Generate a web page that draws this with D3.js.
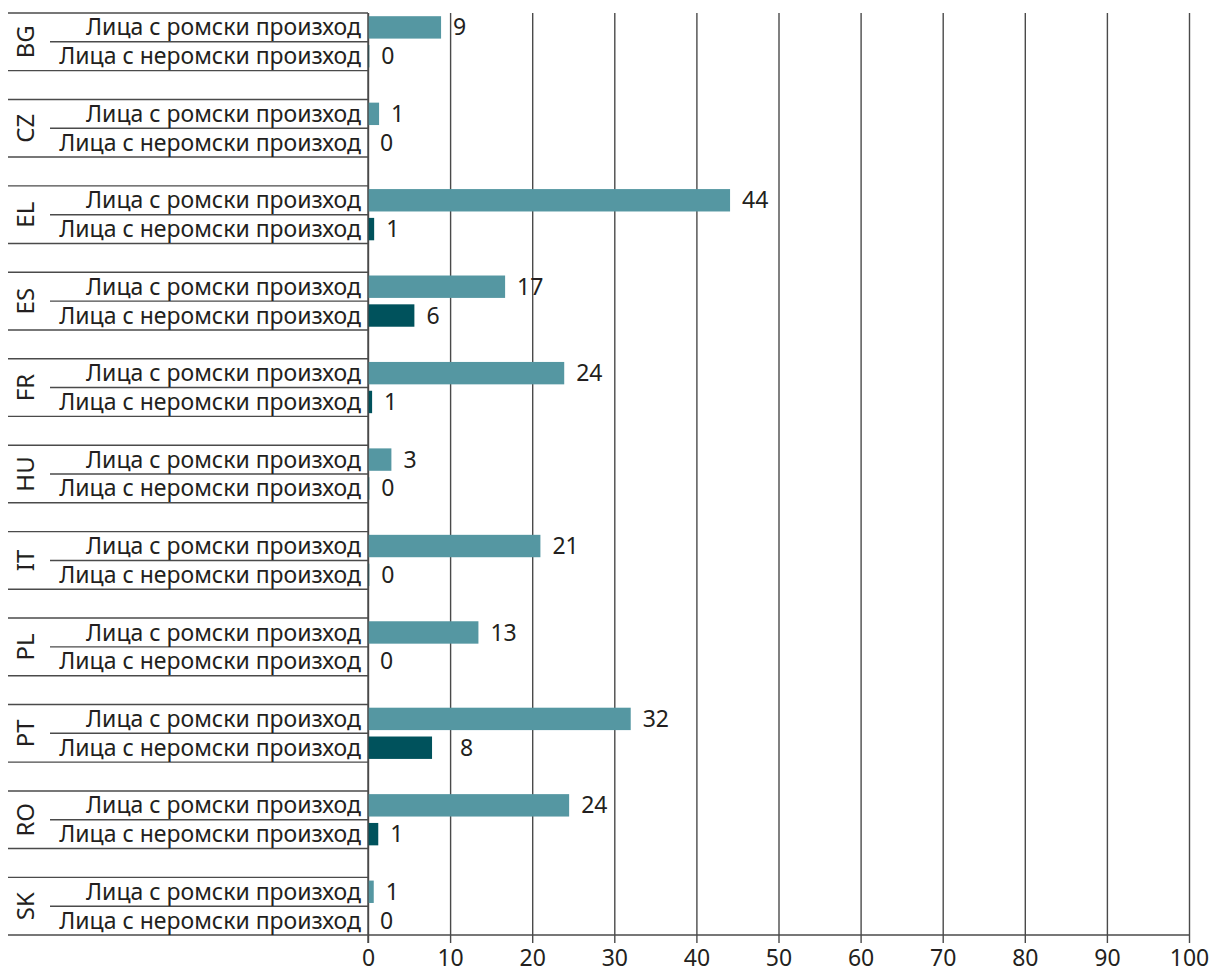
<!DOCTYPE html>
<html>
<head>
<meta charset="utf-8">
<script src="https://cdn.jsdelivr.net/npm/d3@7"></script>
<style>
  html, body { margin: 0; padding: 0; background: #fff; }
  svg { display: block; }
  text { font-family: "Noto Sans", "Open Sans", sans-serif; fill: #231f20; }
</style>
</head>
<body>
<svg id="chart" width="1211" height="974"></svg>
<script>
// ---- data ----
const countries = ["BG", "CZ", "EL", "ES", "FR", "HU", "IT", "PL", "PT", "RO", "SK"];
const seriesNames = ["Лица с ромски произход", "Лица с неромски произход"];
const romaValues    = [8.9, 1.35, 44.1, 16.7, 23.9, 2.85, 21.0, 13.45, 32.0, 24.5, 0.7];
const nonRomaValues = [0.15, 0, 0.75, 5.65, 0.5, 0.15, 0.15, 0, 7.8, 1.25, 0];
const romaLabels    = ["9", "1", "44", "17", "24", "3", "21", "13", "32", "24", "1"];
const nonRomaLabels = ["0", "0", "1", "6", "1", "0", "0", "0", "8", "1", "0"];
const xTicks = [0, 10, 20, 30, 40, 50, 60, 70, 80, 90, 100];
const colors = ["#5597a2", "#00525c"];

(function () {
// ---- layout ----
const svg = d3.select("#chart");
const pLeft = 368, pRight = 1189, pTop = 13, pBottom = 935;
const outerX = 8, innerX = 50;
const fs = "23px";

// rows: roma, non-roma, gap for each country (no final gap)
const rowKeys = [];
countries.forEach((c, i) => {
  rowKeys.push(c + "|0");
  rowKeys.push(c + "|1");
  if (i < countries.length - 1) rowKeys.push(c + "|gap");
});
const y = d3.scaleBand().domain(rowKeys).range([pTop, pBottom]).padding(0);
const rowH = y.bandwidth();
const x = d3.scaleLinear().domain([0, 100]).range([pLeft, pRight]);

const lineColor = "#4a4a4a";

// gridlines + bottom axis
const axis = d3.axisBottom(x).tickValues(xTicks).tickSize(-(pBottom - pTop)).tickSizeOuter(0).tickFormat(d3.format("d"));
const gAxis = svg.append("g").attr("transform", `translate(0,${pBottom})`).call(axis);
gAxis.select(".domain").remove();
gAxis.selectAll(".tick line").attr("stroke", lineColor).attr("stroke-width", 1.4)
  .attr("y2", -(pBottom - pTop)).attr("y1", 8);
gAxis.selectAll(".tick text").attr("y", 15).attr("dy", "0.71em")
  .style("font-size", "23px").attr("fill", "#231f20");

// bottom axis line
svg.append("line").attr("x1", outerX).attr("x2", pRight).attr("y1", pBottom).attr("y2", pBottom)
  .attr("stroke", lineColor).attr("stroke-width", 1.4);

// category lines
const catLines = svg.append("g").attr("stroke", lineColor).attr("stroke-width", 1.4);
countries.forEach((c, i) => {
  const y0 = y(c + "|0");
  const y1 = y(c + "|1");
  catLines.append("line").attr("x1", outerX).attr("x2", pLeft).attr("y1", y0).attr("y2", y0);
  catLines.append("line").attr("x1", innerX).attr("x2", pLeft).attr("y1", y1).attr("y2", y1);
  if (i < countries.length - 1) {
    const yg = y(c + "|gap");
    catLines.append("line").attr("x1", outerX).attr("x2", pLeft).attr("y1", yg).attr("y2", yg);
  }
});

// bars
const barPadTop = 3.2, barH = 22.4;
const bars = [];
countries.forEach((c, i) => {
  bars.push({ key: c + "|0", v: romaValues[i], lab: romaLabels[i], s: 0 });
  bars.push({ key: c + "|1", v: nonRomaValues[i], lab: nonRomaLabels[i], s: 1 });
});
svg.append("g").selectAll("rect").data(bars).join("rect")
  .attr("x", x(0))
  .attr("y", d => y(d.key) + barPadTop)
  .attr("width", d => x(d.v) - x(0))
  .attr("height", barH)
  .attr("fill", d => colors[d.s]);

// y axis line
svg.append("line").attr("x1", pLeft).attr("x2", pLeft).attr("y1", pTop).attr("y2", pBottom + 8)
  .attr("stroke", lineColor).attr("stroke-width", 1.4);

// series labels
svg.append("g").selectAll("text").data(bars).join("text")
  .attr("x", pLeft - 7)
  .attr("y", d => y(d.key) + rowH / 2)
  .attr("dy", "0.35em")
  .attr("text-anchor", "end")
  .style("font-size", fs)
  .text(d => seriesNames[d.s]);

// value labels, nudged past a gridline if the first glyph would sit on one
const gridXs = xTicks.map(t => x(t));
svg.append("g").selectAll("text").data(bars).join("text")
  .attr("x", d => {
    let lx = x(d.v) + 12;
    const g = gridXs.find(gx => gx > lx - 1 && gx < lx + 10);
    if (g !== undefined) lx = g + 10;
    return lx;
  })
  .attr("y", d => y(d.key) + rowH / 2)
  .attr("dy", "0.35em")
  .style("font-size", fs)
  .text(d => d.lab);

// country labels
svg.append("g").selectAll("text").data(countries).join("text")
  .attr("transform", c => `translate(${26},${y(c + "|0") + rowH}) rotate(-90)`)
  .attr("text-anchor", "middle")
  .attr("dy", "0.35em")
  .style("font-size", "24px")
  .text(c => c);
})();
</script>
</body>
</html>
